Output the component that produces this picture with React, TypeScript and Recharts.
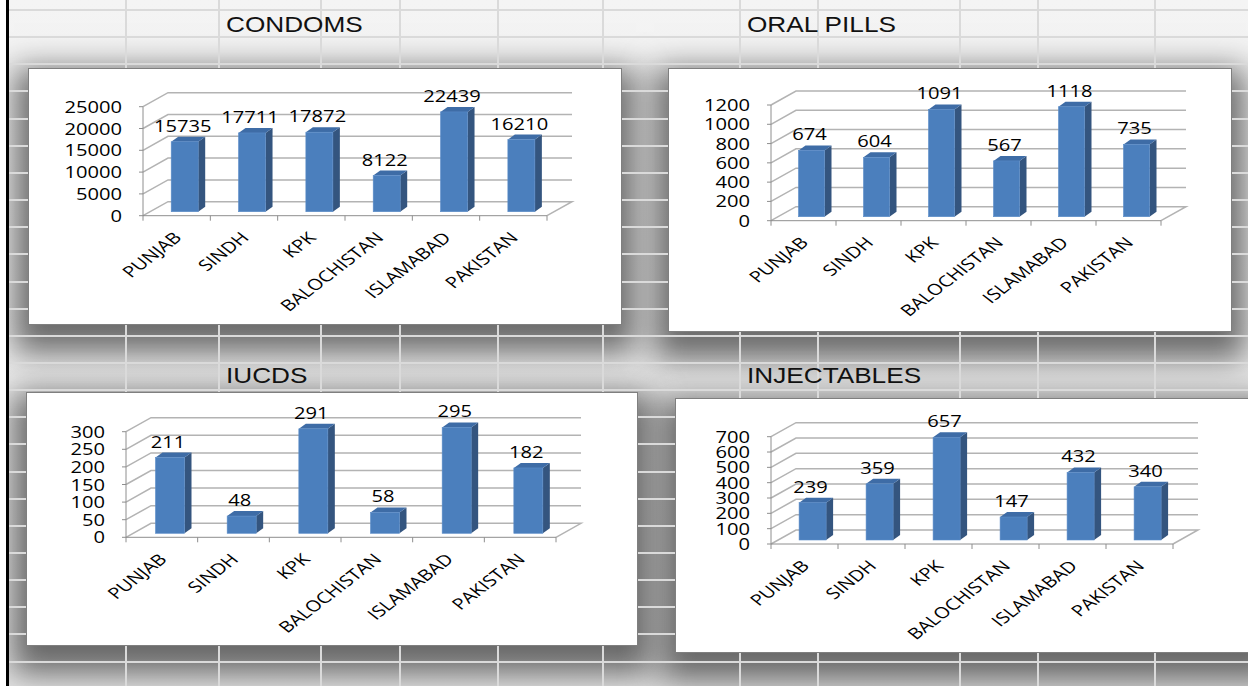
import React from 'react';
import { BarChart, Bar, XAxis, YAxis, CartesianGrid, LabelList } from 'recharts';

const categories = ['PUNJAB', 'SINDH', 'KPK', 'BALOCHISTAN', 'ISLAMABAD', 'PAKISTAN'];
const condoms = [15735, 17711, 17872, 8122, 22439, 16210];
const oralPills = [674, 604, 1091, 567, 1118, 735];
const iucds = [211, 48, 291, 58, 295, 182];
const injectables = [239, 359, 657, 147, 432, 340];

const condomTicks = [0, 5000, 10000, 15000, 20000, 25000];
const pillTicks = [0, 200, 400, 600, 800, 1000, 1200];
const iucdTicks = [0, 50, 100, 150, 200, 250, 300];
const injectableTicks = [0, 100, 200, 300, 400, 500, 600, 700];

// spreadsheet backdrop
const colLines = [126, 219, 321, 400, 498, 603, 740, 818, 960, 1038, 1155];
const rowLines = Array.from({ length: 25 }, (_, i) => 10 + i * 27.15);

const DX = 25; // depth of the 3D walls
const DY = 14;
const SX = 1.3; // the screenshot is stretched sideways
const FONT = '"Open Sans", sans-serif';
const FS = 15.5;

type Box = { left: number; top: number; width: number; height: number };
type Plot = { left: number; right: number; top: number; bottom: number };

const box1: Box = { left: 28, top: 68, width: 594, height: 257 };
const box2: Box = { left: 668, top: 68, width: 564, height: 264 };
const box3: Box = { left: 26, top: 392, width: 612, height: 254 };
const box4: Box = { left: 675, top: 398, width: 590, height: 255 };

const plot1: Plot = { left: 143, right: 547, top: 106.7, bottom: 215.7 };
const plot2: Plot = { left: 771, right: 1161, top: 105, bottom: 220.7 };
const plot3: Plot = { left: 126, right: 556, top: 431.7, bottom: 537.3 };
const plot4: Plot = { left: 771, right: 1173, top: 436.7, bottom: 544 };

const BarShape = (p: any) => {
  const { x, y, width: w, height: h } = p;
  if (h == null || w == null) return null;
  const fx = x + 8;
  const by = y + h - 4;
  const ty = by - h * 1.02;
  const d = 7;
  const r = 5;
  return (
    <g>
      <polygon points={`${fx + w},${ty} ${fx + w + d},${ty - r} ${fx + w + d},${by - r} ${fx + w},${by}`} fill="#34557f" />
      <polygon points={`${fx},${ty} ${fx + d},${ty - r} ${fx + w + d},${ty - r} ${fx + w},${ty}`} fill="#3e6ca6" />
      <rect x={fx} y={ty} width={w} height={by - ty} fill="#4b7fbd" stroke="#5a8cc8" strokeWidth={0.6} />
    </g>
  );
};

const renderLabel = (p: any) => {
  const vb = p.viewBox || {};
  const x = p.x ?? vb.x;
  const y = p.y ?? vb.y;
  const w = p.width ?? vb.width;
  const h = p.height ?? vb.height;
  const by = y + h - 4;
  const ty = by - h * 1.02;
  const cx = x + 8 + w / 2 - 2;
  return (
    <text
      key={`lbl-${p.index}`}
      transform={`translate(${cx} ${ty - 10}) scale(${SX} 1)`}
      textAnchor="middle"
      fontFamily={FONT}
      fontSize={FS}
      fill="#000"
    >
      {p.value}
    </text>
  );
};

function Panel({ title, titleLeft, titleTop, box, plot, values, ticks }: any) {
  const data = categories.map((name, i) => ({ name, value: values[i] }));
  const yW = plot.left - box.left;
  const mt = plot.top - box.top;
  const mr = box.left + box.width - plot.right;
  const floorY = plot.bottom - box.top;
  const xH = 60;
  const mb = box.height - floorY - xH;
  const bw = (plot.right - plot.left) / categories.length;

  const gridLine = (g: any) => {
    const { x1, x2, y1 } = g;
    const isFloor = Math.abs(y1 - floorY) < 1;
    const pts = `${x1},${y1} ${x1 + DX},${y1 - DY} ${x2 + DX},${y1 - DY}` + (isFloor ? ` ${x2},${y1}` : '');
    return <polyline key={`grid-${y1}`} points={pts} fill="none" stroke="#b3b3b3" strokeWidth={1.5} />;
  };

  const YTick = (t: any) => (
    <text
      transform={`translate(${yW - 21} ${t.y}) scale(${SX} 1)`}
      textAnchor="end"
      dominantBaseline="central"
      fontFamily={FONT}
      fontSize={FS}
      fill="#000"
    >
      {t.payload.value}
    </text>
  );

  const XTick = (t: any) => {
    const cx = t.x;
    const left = cx - bw / 2;
    const last = t.index === categories.length - 1;
    return (
      <g>
        <line x1={left} y1={floorY} x2={left} y2={floorY + 5} stroke="#8e8e8e" />
        {last && <line x1={cx + bw / 2} y1={floorY} x2={cx + bw / 2} y2={floorY + 5} stroke="#8e8e8e" />}
        <text
          transform={`translate(${cx + 6} ${floorY + 23}) scale(${SX} 1) rotate(-45)`}
          textAnchor="end"
          fontFamily={FONT}
          fontSize={FS}
          fill="#000"
        >
          {t.payload.value}
        </text>
      </g>
    );
  };

  return (
    <>
      <div
        style={{
          position: 'absolute', left: titleLeft, top: titleTop, fontFamily: '"Liberation Sans", Arial, sans-serif',
          fontSize: 22, lineHeight: '22px', color: '#111', transform: 'scaleX(1.19)', transformOrigin: 'left top',
          whiteSpace: 'nowrap',
        }}
      >
        {title}
      </div>
      <div
        style={{
          position: 'absolute', left: box.left, top: box.top, width: box.width, height: box.height,
          boxSizing: 'border-box', border: '1px solid #7f7f7f', background: '#fff',
        }}
      >
        <div style={{ position: 'absolute', left: -1, top: -1 }}>
          <BarChart
            width={box.width}
            height={box.height}
            data={data}
            margin={{ top: mt, right: mr, bottom: mb, left: 0 }}
            barCategoryGap="30%"
          >
            <CartesianGrid vertical={false} horizontal={gridLine} />
            <XAxis
              dataKey="name"
              height={xH}
              interval={0}
              axisLine={{ stroke: '#8e8e8e' }}
              tickLine={false}
              tick={XTick}
            />
            <YAxis
              width={yW}
              domain={[ticks[0], ticks[ticks.length - 1]]}
              ticks={ticks}
              interval={0}
              axisLine={{ stroke: '#8e8e8e' }}
              tickLine={{ stroke: '#8e8e8e' }}
              tickSize={4}
              tick={YTick}
            />
            <Bar dataKey="value" shape={BarShape} isAnimationActive={false}>
              <LabelList dataKey="value" content={renderLabel} />
            </Bar>
          </BarChart>
        </div>
      </div>
    </>
  );
}

const boxes = [box1, box2, box3, box4];

export default function App() {
  return (
    <div
      style={{
        position: 'absolute', left: 0, top: 0, width: 1248, height: 686, overflow: 'hidden',
        background: 'linear-gradient(#f4f4f4, #e6e6e6)',
      }}
    >
      {boxes.map((b, i) => (
        <div
          key={`sh-${i}`}
          style={{
            position: 'absolute', left: b.left, top: b.top, width: b.width, height: b.height,
            boxShadow: '0 14px 30px 14px rgba(0,0,0,0.55)',
          }}
        />
      ))}
      {colLines.map((x) => (
        <div key={`c-${x}`} style={{ position: 'absolute', left: x - 1, top: 0, width: 2, height: 686, background: '#dadada' }} />
      ))}
      {rowLines.map((y) => (
        <div key={`r-${y}`} style={{ position: 'absolute', left: 0, top: y - 1, width: 1248, height: 2, background: '#dadada' }} />
      ))}
      <div style={{ position: 'absolute', left: 0, top: 0, width: 6, height: 686, background: '#fff' }} />
      <div style={{ position: 'absolute', left: 6, top: 0, width: 3, height: 686, background: '#000' }} />
      <Panel title="CONDOMS" titleLeft={226} titleTop={14} box={box1} plot={plot1} values={condoms} ticks={condomTicks} />
      <Panel title="ORAL PILLS" titleLeft={747} titleTop={14} box={box2} plot={plot2} values={oralPills} ticks={pillTicks} />
      <Panel title="IUCDS" titleLeft={226} titleTop={365} box={box3} plot={plot3} values={iucds} ticks={iucdTicks} />
      <Panel title="INJECTABLES" titleLeft={747} titleTop={365} box={box4} plot={plot4} values={injectables} ticks={injectableTicks} />
    </div>
  );
}
